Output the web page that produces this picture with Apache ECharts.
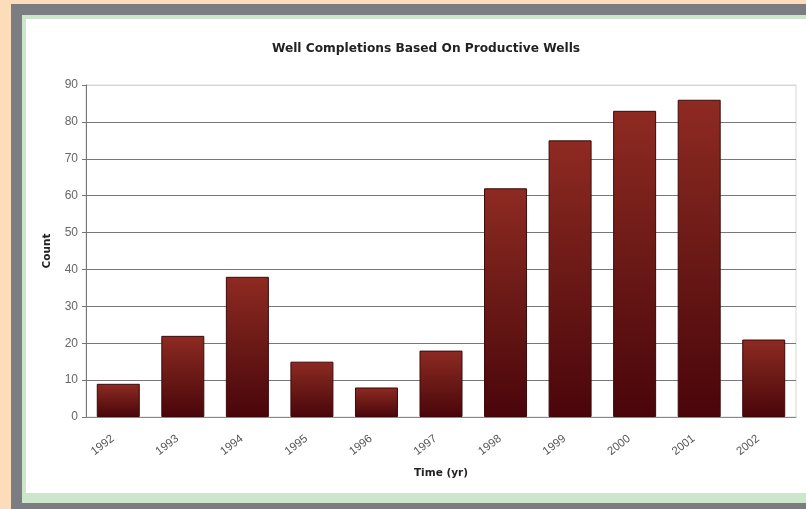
<!DOCTYPE html>
<html>
<head>
<meta charset="utf-8">
<title>Well Completions Based On Productive Wells</title>
<script src="https://cdn.jsdelivr.net/npm/echarts@6/dist/echarts.min.js"></script>
<style>
  html, body { margin: 0; padding: 0; }
  body { width: 806px; height: 509px; background: #fcdcb9; position: relative; overflow: hidden; }
  #frame { position: absolute; left: 11px; top: 4px; width: 800px; height: 510px; background: #7c7d82; }
  #mat { position: absolute; left: 22px; top: 15px; width: 790px; height: 488px; background: #cde6cb; }
  #panel { position: absolute; left: 26px; top: 19px; width: 790px; height: 474px; background: #ffffff; }
  #chart { position: absolute; left: 0; top: 0; width: 806px; height: 509px; }
</style>
</head>
<body>
<div id="frame"></div>
<div id="mat"></div>
<div id="panel"></div>
<div id="chart"></div>
<script>
// Completed wells per year
const years = ['1992', '1993', '1994', '1995', '1996', '1997', '1998', '1999', '2000', '2001', '2002'];
const completions = [9, 22, 38, 15, 8, 18, 62, 75, 83, 86, 21];

// Y axis scale
const countMin = 0;
const countMax = 90;
const countStep = 10;

const chart = echarts.init(document.getElementById('chart'), null, { renderer: 'canvas' });

// Gridlines: darker for inner lines, faint for the top edge
const gridColors = [];
for (let v = countMin; v <= countMax; v += countStep) {
  gridColors.push(v === countMax ? '#d6d6d6' : '#777777');
}

const boldFont = '"DejaVu Sans", Verdana, sans-serif';

chart.setOption({
  backgroundColor: 'transparent',
  animation: false,
  textStyle: { fontFamily: '"Liberation Sans", Arial, sans-serif' },
  title: {
    text: 'Well Completions Based On Productive Wells',
    left: 421,
    textAlign: 'center',
    top: 38,
    textStyle: { fontSize: 12.2, fontWeight: 'bold', color: '#222222', fontFamily: boldFont }
  },
  grid: {
    left: 86, right: 10, top: 85, bottom: 92,
    show: true,
    borderColor: '#d6d6d6',
    borderWidth: 1,
    backgroundColor: 'transparent'
  },
  xAxis: {
    type: 'category',
    data: years,
    name: 'Time (yr)',
    nameLocation: 'middle',
    nameGap: 51,
    nameTextStyle: { fontSize: 10.5, fontWeight: 'bold', color: '#222222', fontFamily: boldFont },
    axisLine: { show: true, lineStyle: { color: '#888888', width: 1 } },
    axisTick: { show: false },
    axisLabel: {
      rotate: 38,
      margin: 16,
      padding: [0, 7, 0, 0],
      fontSize: 11.5,
      color: '#555555'
    }
  },
  yAxis: {
    type: 'value',
    min: countMin,
    max: countMax,
    interval: countStep,
    name: 'Count',
    nameLocation: 'middle',
    nameGap: 33,
    nameTextStyle: { fontSize: 10.5, fontWeight: 'bold', color: '#222222', fontFamily: boldFont },
    axisLine: { show: true, lineStyle: { color: '#777777', width: 1 } },
    axisTick: { show: true, length: 4, lineStyle: { color: '#777777' } },
    axisLabel: { fontSize: 12, color: '#666666', margin: 8 },
    splitLine: { show: true, lineStyle: { color: gridColors, width: 1 } }
  },
  series: [{
    type: 'bar',
    data: completions,
    barWidth: 43,
    itemStyle: {
      color: new echarts.graphic.LinearGradient(0, 0, 0, 1, [
        { offset: 0, color: '#8e2a22' },
        { offset: 0.5, color: '#6a1916' },
        { offset: 1, color: '#4a050a' }
      ]),
      borderColor: '#3a0a0a',
      borderWidth: 1
    }
  }]
});
</script>
</body>
</html>
